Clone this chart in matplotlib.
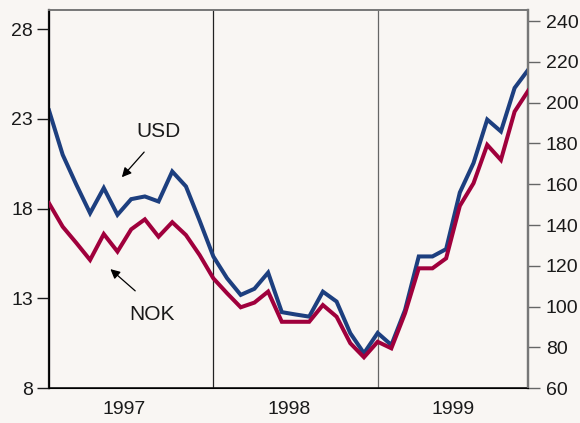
import numpy as np
import matplotlib
matplotlib.use("Agg")
import matplotlib.pyplot as plt

# monthly values, Jan 1997 - Dec 1999
usd = [23.47, 21.0, 19.33, 17.75, 19.15, 17.66, 18.53, 18.68, 18.40, 20.07, 19.24, 17.33,
       15.34, 14.13, 13.20, 13.54, 14.44, 12.24, 12.11, 11.99, 13.38, 12.83, 11.07, 9.95,
       11.08, 10.41, 12.36, 15.34, 15.34, 15.75, 18.90, 20.54, 22.96, 22.30, 24.72, 25.74]
nok = [150.7, 139.2, 131.2, 122.9, 135.6, 127.0, 137.9, 142.8, 134.3, 141.4, 135.1, 125.3,
       113.9, 106.6, 99.7, 102.0, 107.4, 92.6, 92.6, 92.6, 100.8, 95.1, 82.1, 75.2,
       82.8, 79.6, 96.8, 118.8, 118.8, 123.7, 149.4, 160.5, 179.3, 171.9, 195.6, 205.9]
years = ["1997", "1998", "1999"]
left_ticks = [8, 13, 18, 23, 28]
right_ticks = [60, 80, 100, 120, 140, 160, 180, 200, 220, 240]

bg = "#f9f6f3"
blue = "#1d3f7f"
red = "#a0003c"
plt.rcParams["font.family"] = ["Liberation Sans", "DejaVu Sans"]

fig = plt.figure(figsize=(5.8, 4.23), dpi=100)
fig.patch.set_facecolor(bg)
W, H = 580, 423
ax = fig.add_axes([49 / W, (H - 388.3) / H, 479.3 / W, 378.3 / H])
ax.set_facecolor(bg)
ax2 = ax.twinx()

x = np.arange(len(usd))
ax.plot(x, usd, color=blue, lw=2.9, solid_joinstyle="miter", zorder=3)
ax2.plot(x, nok, color=red, lw=2.9, solid_joinstyle="miter", zorder=3)

ax.set_xlim(0, len(usd) - 1)
ax.set_ylim(8, 29.06)
ax2.set_ylim(60, 245.4)

for b in [12, 24]:
    ax.axvline(b, color="#222222" if b == 12 else "#666666", lw=0.9, zorder=2)

ax.set_xticks([5.5, 17.5, 29.5])
ax.set_xticklabels(years)
ax.tick_params(axis="x", length=0, labelsize=14, pad=9, colors="#1a1a1a")
ax.set_yticks(left_ticks)
ax.tick_params(axis="y", direction="out", length=8.5, width=1, labelsize=14,
               colors="#1a1a1a", pad=3)
ax2.set_yticks(right_ticks)
ax2.tick_params(axis="y", direction="out", length=8.5, width=1, labelsize=14,
                color="#666666", labelcolor="#1a1a1a", pad=4)

ax.spines["left"].set_linewidth(1.6)
ax.spines["left"].set_color("#111111")
ax.spines["bottom"].set_linewidth(1.2)
ax.spines["bottom"].set_color("#111111")
for a in (ax, ax2):
    a.spines["top"].set_color("#777777")
    a.spines["top"].set_linewidth(1.2)
    a.spines["right"].set_color("#777777")
    a.spines["right"].set_linewidth(1.6)

# annotations
def px(xp, yp):
    return ax.transData.inverted().transform(fig.transFigure.transform((xp / W, 1 - yp / H)))

fig.canvas.draw()
ax.annotate("", xy=px(120, 179.3), xytext=px(146, 150),
            arrowprops=dict(arrowstyle="-|>", color="black", lw=0.9, mutation_scale=14))
ax.text(*px(158.3, 131.7), "USD", fontsize=15, ha="center", va="center", color="#1a1a1a")
ax.annotate("", xy=px(108.3, 267.3), xytext=px(137.3, 292.7),
            arrowprops=dict(arrowstyle="-|>", color="black", lw=0.9, mutation_scale=14))
ax.text(*px(151.7, 315), "NOK", fontsize=15, ha="center", va="center", color="#1a1a1a")

fig.savefig("out.png", dpi=100, facecolor=bg)
